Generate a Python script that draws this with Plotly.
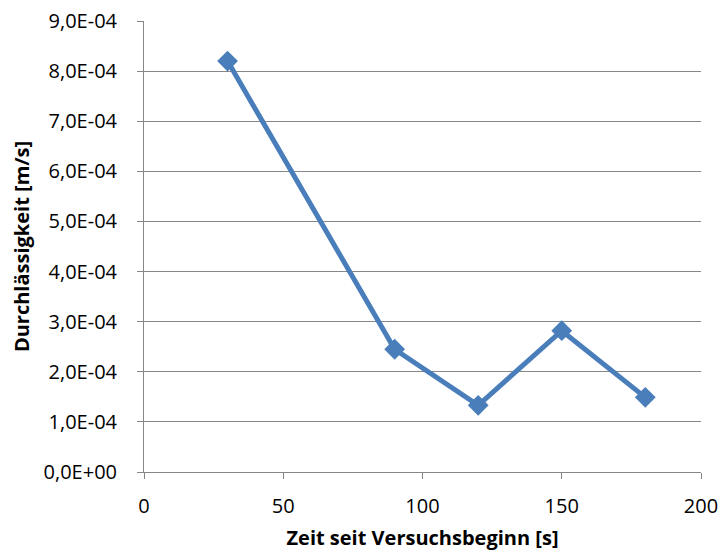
import plotly.graph_objects as go

# Measurement times and permeability values
zeit = [30, 90, 120, 150, 180]
durchlaessigkeit = [8.2e-4, 2.45e-4, 1.33e-4, 2.82e-4, 1.49e-4]

y_ticks = [0, 1e-4, 2e-4, 3e-4, 4e-4, 5e-4, 6e-4, 7e-4, 8e-4, 9e-4]
y_labels = ["0,0E+00", "1,0E-04", "2,0E-04", "3,0E-04", "4,0E-04",
            "5,0E-04", "6,0E-04", "7,0E-04", "8,0E-04", "9,0E-04"]
x_ticks = [0, 50, 100, 150, 200]

blue = "#4A7EBB"
grid = "#878787"
font = "Open Sans"

fig = go.Figure(go.Scatter(
    x=zeit, y=durchlaessigkeit, mode="lines+markers",
    line=dict(color=blue, width=5),
    marker=dict(symbol="diamond", size=16, color=blue),
))

fig.update_layout(
    width=724, height=554,
    margin=dict(l=144, r=23, t=21, b=82),
    paper_bgcolor="white", plot_bgcolor="white",
    showlegend=False,
    font=dict(family=font, size=20, color="#000000"),
)
fig.update_xaxes(
    range=[0, 200], tickvals=x_ticks, automargin=False,
    showgrid=False, zeroline=False,
    showline=True, linecolor=grid, linewidth=1,
    ticks="outside", ticklen=6, tickcolor=grid,
    ticklabelstandoff=10,
    tickfont=dict(size=20),
    title=dict(text="<b>Zeit seit Versuchsbeginn [s]</b>", font=dict(size=20), standoff=12),
)
fig.update_yaxes(
    range=[0, 9e-4], tickvals=y_ticks, ticktext=y_labels, automargin=False,
    showgrid=True, gridcolor=grid, gridwidth=1, zeroline=False,
    showline=True, linecolor=grid, linewidth=1,
    ticks="outside", ticklen=6, tickcolor=grid,
    ticklabelstandoff=16,
    tickfont=dict(size=20),
    title=dict(text="<b>Durchlässigkeit [m/s]</b>", font=dict(size=20), standoff=8),
)

fig.write_html("out.html")
